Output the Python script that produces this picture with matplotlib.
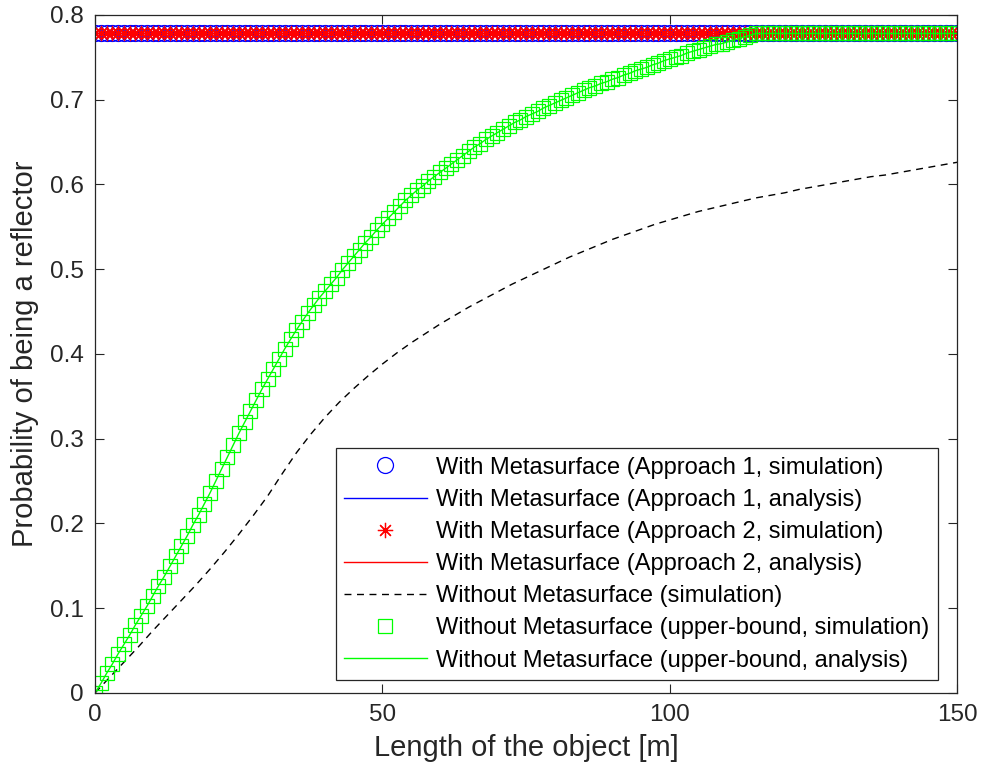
import numpy as np
import matplotlib.pyplot as plt

plt.rcParams['font.family'] = ['Liberation Sans', 'DejaVu Sans']

# object length [m], one sample per metre
length = np.arange(0, 151)

# with metasurface: both approaches sit on the same constant level
p_app1_sim = [0.778] * 151
p_app1_ana = [0.778] * 151
p_app2_sim = [0.778] * 151
p_app2_ana = [0.778] * 151

# without metasurface, upper bound (sim and analysis coincide)
p_ub = [
    0.000, 0.011, 0.023, 0.034, 0.046, 0.057, 0.068, 0.080, 0.091, 0.102,
    0.114, 0.126, 0.137, 0.149, 0.161, 0.173, 0.185, 0.198, 0.210, 0.223,
    0.236, 0.250, 0.264, 0.278, 0.292, 0.306, 0.319, 0.332, 0.345, 0.358,
    0.370, 0.382, 0.394, 0.406, 0.417, 0.428, 0.438, 0.448, 0.457, 0.466,
    0.474, 0.482, 0.490, 0.499, 0.507, 0.515, 0.523, 0.531, 0.538, 0.546,
    0.553, 0.560, 0.567, 0.574, 0.581, 0.587, 0.593, 0.598, 0.604, 0.609,
    0.614, 0.619, 0.624, 0.629, 0.634, 0.639, 0.644, 0.648, 0.653, 0.657,
    0.661, 0.665, 0.669, 0.673, 0.676, 0.680, 0.683, 0.686, 0.690, 0.693,
    0.696, 0.699, 0.702, 0.705, 0.708, 0.711, 0.714, 0.716, 0.719, 0.721,
    0.724, 0.726, 0.729, 0.731, 0.734, 0.736, 0.738, 0.741, 0.743, 0.746,
    0.748, 0.750, 0.752, 0.755, 0.757, 0.759, 0.761, 0.763, 0.765, 0.766,
    0.768, 0.770, 0.772, 0.774, 0.776, 0.778,
] + [0.778] * 35

# without metasurface, simulation (dashed), read every 2.5 m
length_nm = np.arange(0, 150.1, 2.5)
p_nm = [0.000, 0.018, 0.036, 0.054, 0.073, 0.091, 0.109, 0.127, 0.146, 0.166,
        0.187, 0.209, 0.232, 0.258, 0.283, 0.305, 0.325, 0.343, 0.359, 0.374,
        0.388, 0.401, 0.413, 0.424, 0.435, 0.445, 0.455, 0.464, 0.473, 0.482,
        0.490, 0.498, 0.506, 0.514, 0.521, 0.528, 0.535, 0.541, 0.547, 0.553,
        0.558, 0.563, 0.568, 0.572, 0.576, 0.580, 0.584, 0.587, 0.590, 0.594,
        0.597, 0.600, 0.603, 0.606, 0.609, 0.611, 0.614, 0.617, 0.620, 0.623,
        0.626]

fig = plt.figure(figsize=(9.81, 7.81), dpi=100)
ax = fig.add_axes([0.097, 0.113, 0.8787, 0.868])

ax.plot(length, p_app1_sim, 'o', color='blue', mfc='none', ms=11.5, mew=0.9,
        label='With Metasurface (Approach 1, simulation)')
ax.plot(length, p_app1_ana, '-', color='blue', lw=1,
        label='With Metasurface (Approach 1, analysis)')
ax.plot(length, p_app2_sim, linestyle='none', marker=(8, 2, 0), color='red', ms=11, mew=0.9,
        label='With Metasurface (Approach 2, simulation)')
ax.plot(length, p_app2_ana, '-', color='red', lw=1,
        label='With Metasurface (Approach 2, analysis)')
ax.plot(length_nm, p_nm, '--', color='black', lw=1, dashes=(5, 4),
        label='Without Metasurface (simulation)')
ax.plot(length, p_ub, 's', color=(0, 1, 0), mfc='none', ms=9.5, mew=0.9,
        label='Without Metasurface (upper-bound, simulation)')
ax.plot(length, p_ub, '-', color=(0, 1, 0), lw=1,
        label='Without Metasurface (upper-bound, analysis)')

ax.set_xlim(0, 150)
ax.set_ylim(0, 0.8)
ax.set_xticks([0, 50, 100, 150])
ax.set_yticks(np.arange(0, 0.81, 0.1))
ax.set_yticklabels(['0', '0.1', '0.2', '0.3', '0.4', '0.5', '0.6', '0.7', '0.8'])
ax.tick_params(direction='in', top=True, right=True, labelsize=17.5,
               colors='0.15', length=6.5, width=0.8, pad=8)
for s in ax.spines.values():
    s.set_color('0.15')
    s.set_linewidth(0.9)

ax.set_xlabel('Length of the object [m]', fontsize=21, color='0.15', labelpad=6)
ax.set_ylabel('Probability of being a reflector', fontsize=21, color='0.15', labelpad=8)

leg = ax.legend(loc='lower right', bbox_to_anchor=(0.9775, 0.019), fontsize=17,
                frameon=True, fancybox=False, edgecolor='0.15', framealpha=1,
                handlelength=3.5, labelspacing=0.43, borderpad=0.35,
                handletextpad=0.4, borderaxespad=0)
leg.get_frame().set_linewidth(0.9)

plt.savefig('out.png', dpi=100)
